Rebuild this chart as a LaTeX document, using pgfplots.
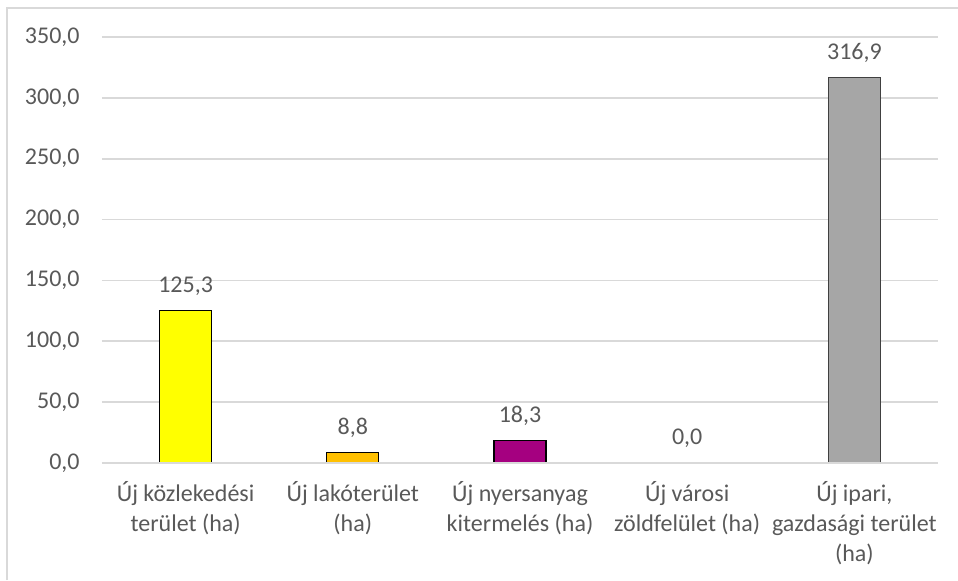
\documentclass[border=0pt]{standalone}
\usepackage{pgfplots}
\pgfplotsset{compat=1.18}
\usepackage{fontspec}
\setmainfont{Carlito}
\definecolor{txt}{HTML}{595959}
\definecolor{gridc}{HTML}{D9D9D9}
\definecolor{cYellow}{HTML}{FFFF00}
\definecolor{cOrange}{HTML}{FFC000}
\definecolor{cPurple}{HTML}{A50080}
\definecolor{cGray}{HTML}{A6A6A6}
\begin{document}
\begin{tikzpicture}
\useasboundingbox (0,0) rectangle (479pt,290pt);
\draw[gridc, line width=0.9pt] (3.5pt,0) -- (3.5pt,286pt) -- (479pt,286pt);
\begin{axis}[
  at={(51pt,58.5pt)}, anchor=south west,
  scale only axis, width=418pt, height=213pt,
  ymin=0, ymax=350, xmin=-0.5, xmax=4.5,
  ytick={0,50,...,350},
  xtick={0,1,2,3,4},
  xticklabels={{Új közlekedési\\terület (ha)},{Új lakóterület\\(ha)},{Új nyersanyag\\kitermelés (ha)},{Új városi\\zöldfelület (ha)},{Új ipari,\\gazdasági terület\\(ha)}},
  axis line style={draw=none},
  major tick length=0pt,
  ymajorgrids, grid style={gridc, line width=0.9pt},
  /pgf/number format/.cd, fixed, fixed zerofill, precision=1, use comma, assume math mode=true,
  /pgfplots/.cd,
  yticklabel style={font=\fontsize{12}{14}\selectfont, text=txt, inner sep=0pt, anchor=east, xshift=-11pt},
  xticklabel style={font=\fontsize{12}{15}\selectfont, text=txt, align=center, inner sep=0pt, anchor=north, yshift=-9pt},
  ybar, bar width=26pt, bar shift=0pt,
  nodes near coords,
  every node near coord/.style={font=\fontsize{12}{14}\selectfont, text=txt, inner sep=0pt, anchor=center, yshift=12.3pt},
  clip=false,
]
\addplot[fill=cYellow, draw=black, line width=0.6pt] coordinates {(0,125.3)};
\addplot[fill=cOrange, draw=black, line width=0.6pt] coordinates {(1,8.8)};
\addplot[fill=cPurple, draw=black, line width=0.6pt] coordinates {(2,18.3)};
\addplot[fill=cGray, draw=none, line width=0.6pt] coordinates {(3,0)};
\addplot[fill=cGray, draw=black!75, line width=0.6pt] coordinates {(4,316.9)};
\draw[gridc, line width=0.9pt] (axis cs:-0.5,0) -- (axis cs:4.5,0);
\end{axis}
\end{tikzpicture}
\end{document}
